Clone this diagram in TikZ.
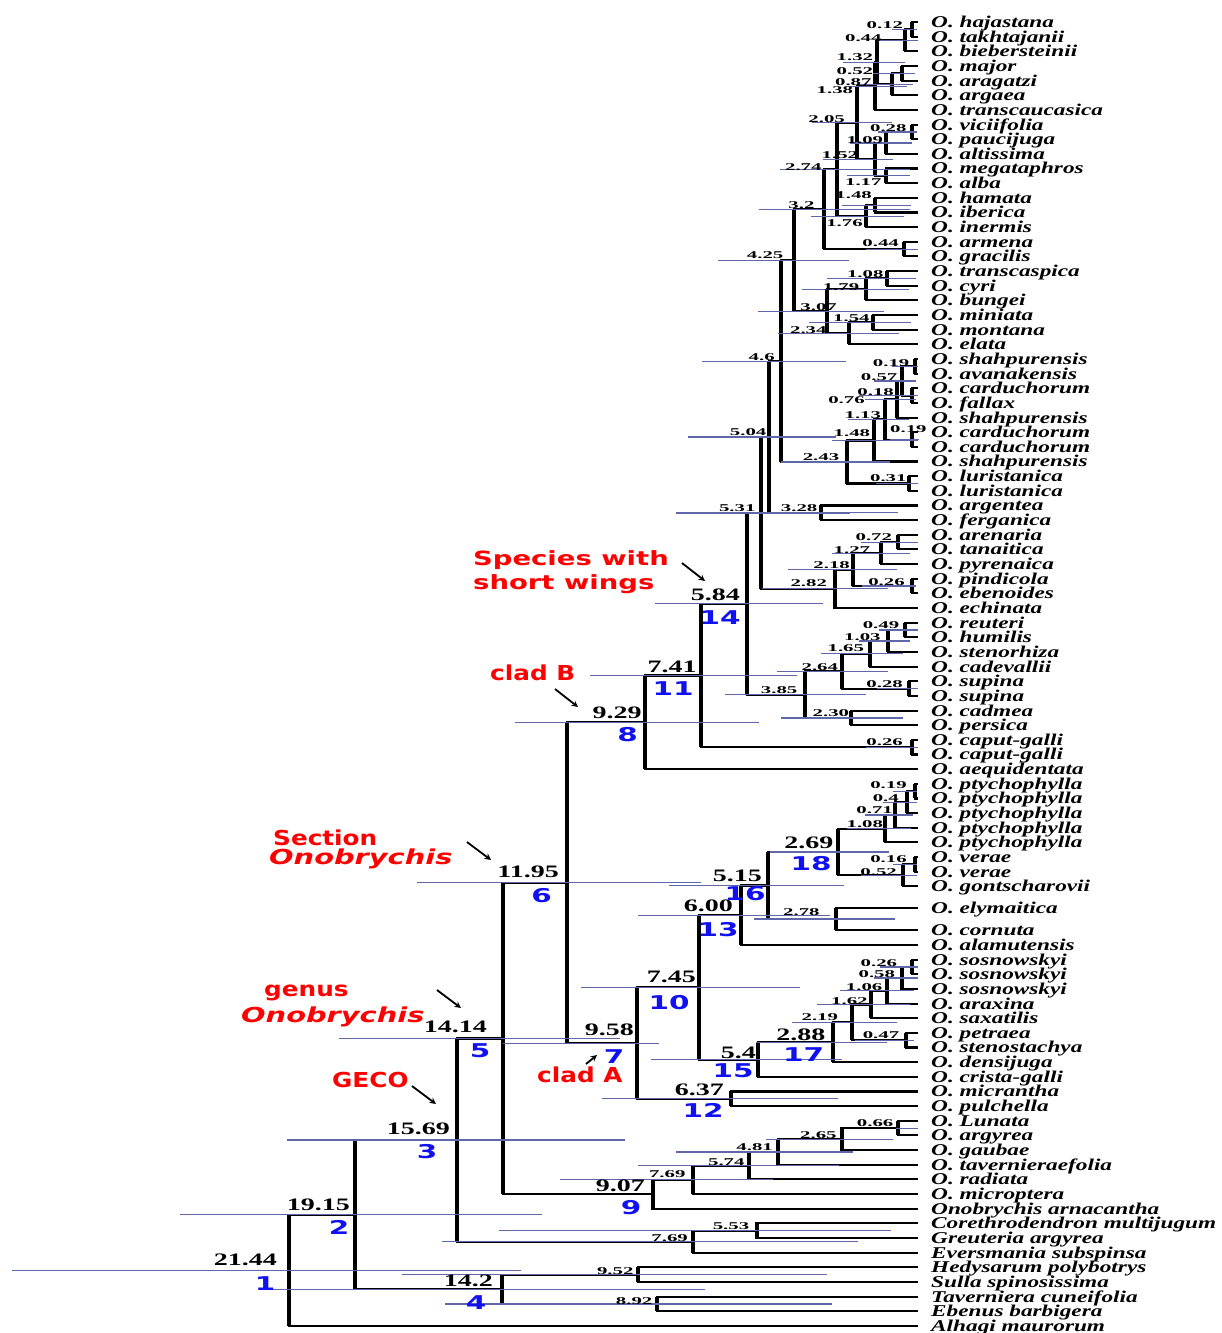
\documentclass[tikz,border=0pt]{standalone}
\usepackage{fontspec}
\setmainfont{Liberation Serif}
\newfontfamily\leaffont{Liberation Serif}[FakeStretch=1.41]
\newfontfamily\agefont{Liberation Serif}[FakeStretch=2.0]
\newfontfamily\bigagefont{Liberation Serif}[FakeStretch=1.6]
\newfontfamily\numfont{DejaVu Sans}[FakeStretch=1.55]
\newfontfamily\cladefont{DejaVu Sans}[FakeStretch=1.2]
\newfontfamily\widecladefont{DejaVu Sans}[FakeStretch=1.4]
\usepackage{xcolor}
\definecolor{hpdblue}{HTML}{5F66AA}
\definecolor{nodeblue}{HTML}{1010F0}
\definecolor{cladered}{HTML}{FF0000}
\usepackage{tikz}
\usetikzlibrary{arrows}

\begin{document}
\begin{tikzpicture}[
        x=1pt, y=-1pt,
        leaf/.style={anchor=west, inner xsep=13pt, inner ysep=0pt, text height=10.9pt, text depth=0pt, font=\leaffont\bfseries\itshape\fontsize{16.5}{18}\selectfont},
        age/.style={anchor=east, inner sep=0pt, font=\agefont\bfseries\fontsize{10.4}{11}\selectfont},
        bigage/.style={anchor=east, inner sep=0pt, font=\bigagefont\bfseries\fontsize{17.5}{19}\selectfont},
        num/.style={inner sep=0pt, text=nodeblue, font=\numfont\bfseries\fontsize{19}{20}\selectfont},
        clade/.style={anchor=west, inner sep=0pt, text=cladered, text height=15pt, text depth=0pt, font=\cladefont\bfseries\fontsize{20.6}{22}\selectfont},
        wideclade/.style={clade, font=\widecladefont\bfseries\fontsize{20.6}{22}\selectfont},
        wings/.style={clade, text height=14.3pt, font=\widecladefont\bfseries\fontsize{19.6}{21}\selectfont},
        branch/.style={line width=2.1pt},
        bar/.style={line width=4pt},
        hpd/.style={draw=hpdblue, line width=1.2pt},
        arrow/.style={->, line width=1.8pt, >=stealth}
    ]
        \useasboundingbox (0,0) rectangle (1221,1333);

        \node[leaf] (hajastana) at (918,22) {O. hajastana};
        \node[leaf] (takhtajanii) at (918,36.65) {O. takhtajanii};
        \node[leaf] (biebersteinii) at (918,51.3) {O. biebersteinii};
        \node[leaf] (major) at (918,65.95) {O. major};
        \node[leaf] (aragatzi) at (918,80.6) {O. aragatzi};
        \node[leaf] (argaea) at (918,95.25) {O. argaea};
        \node[leaf] (transcaucasica) at (918,109.9) {O. transcaucasica};
        \node[leaf] (viciifolia) at (918,124.55) {O. viciifolia};
        \node[leaf] (paucijuga) at (918,139.2) {O. paucijuga};
        \node[leaf] (altissima) at (918,153.85) {O. altissima};
        \node[leaf] (megataphros) at (918,168.5) {O. megataphros};
        \node[leaf] (alba) at (918,183.15) {O. alba};
        \node[leaf] (hamata) at (918,197.8) {O. hamata};
        \node[leaf] (iberica) at (918,212.45) {O. iberica};
        \node[leaf] (inermis) at (918,227.1) {O. inermis};
        \node[leaf] (armena) at (918,241.75) {O. armena};
        \node[leaf] (gracilis) at (918,256.4) {O. gracilis};
        \node[leaf] (transcaspica) at (918,271.05) {O. transcaspica};
        \node[leaf] (cyri) at (918,285.7) {O. cyri};
        \node[leaf] (bungei) at (918,300.35) {O. bungei};
        \node[leaf] (miniata) at (918,315) {O. miniata};
        \node[leaf] (montana) at (918,329.65) {O. montana};
        \node[leaf] (elata) at (918,344.3) {O. elata};
        \node[leaf] (shahA) at (918,358.95) {O. shahpurensis};
        \node[leaf] (avanakensis) at (918,373.6) {O. avanakensis};
        \node[leaf] (cardA) at (918,388.25) {O. carduchorum};
        \node[leaf] (fallax) at (918,402.9) {O. fallax};
        \node[leaf] (shahB) at (918,417.55) {O. shahpurensis};
        \node[leaf] (cardB) at (918,432.2) {O. carduchorum};
        \node[leaf] (cardC) at (918,446.85) {O. carduchorum};
        \node[leaf] (shahC) at (918,461.5) {O. shahpurensis};
        \node[leaf] (luriA) at (918,476.15) {O. luristanica};
        \node[leaf] (luriB) at (918,490.8) {O. luristanica};
        \node[leaf] (argentea) at (918,505.45) {O. argentea};
        \node[leaf] (ferganica) at (918,520.1) {O. ferganica};
        \node[leaf] (arenaria) at (918,534.75) {O. arenaria};
        \node[leaf] (tanaitica) at (918,549.4) {O. tanaitica};
        \node[leaf] (pyrenaica) at (918,564.05) {O. pyrenaica};
        \node[leaf] (pindicola) at (918,578.7) {O. pindicola};
        \node[leaf] (ebenoides) at (918,593.35) {O. ebenoides};
        \node[leaf] (echinata) at (918,608) {O. echinata};
        \node[leaf] (reuteri) at (918,622.65) {O. reuteri};
        \node[leaf] (humilis) at (918,637.3) {O. humilis};
        \node[leaf] (stenorhiza) at (918,651.95) {O. stenorhiza};
        \node[leaf] (cadevallii) at (918,666.6) {O. cadevallii};
        \node[leaf] (supinaA) at (918,681.25) {O. supina};
        \node[leaf] (supinaB) at (918,695.9) {O. supina};
        \node[leaf] (cadmea) at (918,710.55) {O. cadmea};
        \node[leaf] (persica) at (918,725.2) {O. persica};
        \node[leaf] (caputA) at (918,739.85) {O. caput-galli};
        \node[leaf] (caputB) at (918,754.5) {O. caput-galli};
        \node[leaf] (aequidentata) at (918,769.15) {O. aequidentata};
        \node[leaf] (ptychA) at (918,783.8) {O. ptychophylla};
        \node[leaf] (ptychB) at (918,798.45) {O. ptychophylla};
        \node[leaf] (ptychC) at (918,813.1) {O. ptychophylla};
        \node[leaf] (ptychD) at (918,827.75) {O. ptychophylla};
        \node[leaf] (ptychE) at (918,842.4) {O. ptychophylla};
        \node[leaf] (veraeA) at (918,857.05) {O. verae};
        \node[leaf] (veraeB) at (918,871.7) {O. verae};
        \node[leaf] (gontscharovii) at (918,886.35) {O. gontscharovii};
        \node[leaf] (elymaitica) at (918,908) {O. elymaitica};
        \node[leaf] (cornuta) at (918,930) {O. cornuta};
        \node[leaf] (alamutensis) at (918,944.95) {O. alamutensis};
        \node[leaf] (sosnA) at (918,959.6) {O. sosnowskyi};
        \node[leaf] (sosnB) at (918,974.25) {O. sosnowskyi};
        \node[leaf] (sosnC) at (918,988.9) {O. sosnowskyi};
        \node[leaf] (araxina) at (918,1003.55) {O. araxina};
        \node[leaf] (saxatilis) at (918,1018.2) {O. saxatilis};
        \node[leaf] (petraea) at (918,1032.85) {O. petraea};
        \node[leaf] (stenostachya) at (918,1047.5) {O. stenostachya};
        \node[leaf] (densijuga) at (918,1062.15) {O. densijuga};
        \node[leaf] (cristagalli) at (918,1076.8) {O. crista-galli};
        \node[leaf] (micrantha) at (918,1091.45) {O. micrantha};
        \node[leaf] (pulchella) at (918,1106.1) {O. pulchella};
        \node[leaf] (lunata) at (918,1120.75) {O. Lunata};
        \node[leaf] (argyrea) at (918,1135.4) {O. argyrea};
        \node[leaf] (gaubae) at (918,1150.05) {O. gaubae};
        \node[leaf] (tavernieraefolia) at (918,1164.7) {O. tavernieraefolia};
        \node[leaf] (radiata) at (918,1179.35) {O. radiata};
        \node[leaf] (microptera) at (918,1194) {O. microptera};
        \node[leaf] (arnacantha) at (918,1208.65) {Onobrychis arnacantha};
        \node[leaf] (corethrodendron) at (918,1223.3) {Corethrodendron multijugum};
        \node[leaf] (greuteria) at (918,1237.95) {Greuteria argyrea};
        \node[leaf] (eversmania) at (918,1252.6) {Eversmania subspinsa};
        \node[leaf] (hedysarum) at (918,1267.25) {Hedysarum polybotrys};
        \node[leaf] (sulla) at (918,1281.9) {Sulla spinosissima};
        \node[leaf] (taverniera) at (918,1296.55) {Taverniera cuneifolia};
        \node[leaf] (ebenus) at (918,1311.2) {Ebenus barbigera};
        \node[leaf] (alhagi) at (918,1325.85) {Alhagi maurorum};

        \coordinate (c012) at (912,29.35);
        \coordinate (c044a) at (905,40.33);
        \coordinate (c052a) at (902,73.3);
        \coordinate (c087) at (892,84.3);
        \coordinate (c132) at (877,62.3);
        \coordinate (c138) at (875,86.1);
        \coordinate (c028a) at (912,131.9);
        \coordinate (c109) at (886,142.9);
        \coordinate (c117) at (886,175.85);
        \coordinate (c152) at (875,159.4);
        \coordinate (c205) at (857,122.75);
        \coordinate (c148a) at (875,205.15);
        \coordinate (c176) at (866,216.1);
        \coordinate (c274) at (837,169.4);
        \coordinate (c044b) at (904,249.1);
        \coordinate (c320) at (824,209.25);
        \coordinate (c108a) at (887,278.4);
        \coordinate (c179) at (866,289.4);
        \coordinate (c154) at (873,322.35);
        \coordinate (c234) at (849,333.3);
        \coordinate (c307) at (827,311.35);
        \coordinate (c425) at (794,260.3);
        \coordinate (c019a) at (915,366.3);
        \coordinate (c018) at (912,395.6);
        \coordinate (c057) at (902,380.95);
        \coordinate (c076) at (897,399.3);
        \coordinate (c019b) at (912,439.55);
        \coordinate (c113) at (885,419.4);
        \coordinate (c148b) at (874,440.45);
        \coordinate (c031) at (909,483.5);
        \coordinate (c243) at (847,462);
        \coordinate (c460) at (781,361.15);
        \coordinate (c328) at (821,512.8);
        \coordinate (c504) at (769,437);
        \coordinate (c072) at (898,542.1);
        \coordinate (c127) at (881,553.1);
        \coordinate (c026a) at (912,586.05);
        \coordinate (c218) at (853,569.6);
        \coordinate (c282) at (834.5,588.8);
        \coordinate (c531) at (761,512.9);
        \coordinate (c049) at (905,630);
        \coordinate (c103) at (888,641);
        \coordinate (c165) at (870,653.8);
        \coordinate (c028b) at (909,688.6);
        \coordinate (c264) at (842,671.2);
        \coordinate (c230) at (851,717.9);
        \coordinate (c385) at (805,694.55);
        \coordinate (n14) at (747,603.7);
        \coordinate (c026b) at (912,747.2);
        \coordinate (n11) at (701,675.45);
        \coordinate (n8) at (645,722.3);
        \coordinate (c019c) at (915,791.15);
        \coordinate (c040) at (907,802.1);
        \coordinate (c071) at (895,814.95);
        \coordinate (c108b) at (885,828.7);
        \coordinate (c016) at (915,864.4);
        \coordinate (c052b) at (903,875.4);
        \coordinate (n18) at (838,852.05);
        \coordinate (c278) at (836,919);
        \coordinate (n16) at (768,885.5);
        \coordinate (n13) at (741,915.25);
        \coordinate (c026c) at (912,966.95);
        \coordinate (c058) at (901.5,977.9);
        \coordinate (c106) at (887,990.75);
        \coordinate (c162) at (871,1004.5);
        \coordinate (c047) at (906,1040.2);
        \coordinate (c219) at (852,1022.35);
        \coordinate (n17) at (833,1042.3);
        \coordinate (n15) at (758,1059.55);
        \coordinate (n10) at (699,987.4);
        \coordinate (n12) at (731,1098.8);
        \coordinate (n7) at (637,1043.1);
        \coordinate (n6) at (567,882.7);
        \coordinate (c066) at (898,1128.1);
        \coordinate (c265) at (841.5,1139.1);
        \coordinate (c481) at (778,1151.9);
        \coordinate (c574) at (749,1165.65);
        \coordinate (c769a) at (693,1179.8);
        \coordinate (n9) at (652.5,1194.25);
        \coordinate (n5) at (503,1038.5);
        \coordinate (c553) at (756.5,1230.65);
        \coordinate (c769b) at (693,1241.6);
        \coordinate (n3) at (457,1140.05);
        \coordinate (c952) at (638,1274.6);
        \coordinate (c892) at (657,1303.9);
        \coordinate (n4) at (502,1289.25);
        \coordinate (n2) at (355,1214.65);
        \coordinate (n1) at (289,1270.3);

        \draw[branch] (hajastana) -| (c012) |- (takhtajanii); \draw[bar] (c012 |- hajastana) -- (c012 |- takhtajanii);
        \draw[branch] (c012) -| (c044a) |- (biebersteinii); \draw[bar] (c044a |- c012) -- (c044a |- biebersteinii);
        \draw[branch] (major) -| (c052a) |- (aragatzi); \draw[bar] (c052a |- major) -- (c052a |- aragatzi);
        \draw[branch] (c052a) -| (c087) |- (argaea); \draw[bar] (c087 |- c052a) -- (c087 |- argaea);
        \draw[branch] (c044a) -| (c132) |- (c087); \draw[bar] (c132 |- c044a) -- (c132 |- c087);
        \draw[branch] (c132) -| (c138) |- (transcaucasica); \draw[bar] (c138 |- c132) -- (c138 |- transcaucasica);
        \draw[branch] (viciifolia) -| (c028a) |- (paucijuga); \draw[bar] (c028a |- viciifolia) -- (c028a |- paucijuga);
        \draw[branch] (c028a) -| (c109) |- (altissima); \draw[bar] (c109 |- c028a) -- (c109 |- altissima);
        \draw[branch] (megataphros) -| (c117) |- (alba); \draw[bar] (c117 |- megataphros) -- (c117 |- alba);
        \draw[branch] (c109) -| (c152) |- (c117); \draw[bar] (c152 |- c109) -- (c152 |- c117);
        \draw[branch] (c138) -| (c205) |- (c152); \draw[bar] (c205 |- c138) -- (c205 |- c152);
        \draw[branch] (hamata) -| (c148a) |- (iberica); \draw[bar] (c148a |- hamata) -- (c148a |- iberica);
        \draw[branch] (c148a) -| (c176) |- (inermis); \draw[bar] (c176 |- c148a) -- (c176 |- inermis);
        \draw[branch] (c205) -| (c274) |- (c176); \draw[bar] (c274 |- c205) -- (c274 |- c176);
        \draw[branch] (armena) -| (c044b) |- (gracilis); \draw[bar] (c044b |- armena) -- (c044b |- gracilis);
        \draw[branch] (c274) -| (c320) |- (c044b); \draw[bar] (c320 |- c274) -- (c320 |- c044b);
        \draw[branch] (transcaspica) -| (c108a) |- (cyri); \draw[bar] (c108a |- transcaspica) -- (c108a |- cyri);
        \draw[branch] (c108a) -| (c179) |- (bungei); \draw[bar] (c179 |- c108a) -- (c179 |- bungei);
        \draw[branch] (miniata) -| (c154) |- (montana); \draw[bar] (c154 |- miniata) -- (c154 |- montana);
        \draw[branch] (c154) -| (c234) |- (elata); \draw[bar] (c234 |- c154) -- (c234 |- elata);
        \draw[branch] (c179) -| (c307) |- (c234); \draw[bar] (c307 |- c179) -- (c307 |- c234);
        \draw[branch] (c320) -| (c425) |- (c307); \draw[bar] (c425 |- c320) -- (c425 |- c307);
        \draw[branch] (shahA) -| (c019a) |- (avanakensis); \draw[bar] (c019a |- shahA) -- (c019a |- avanakensis);
        \draw[branch] (cardA) -| (c018) |- (fallax); \draw[bar] (c018 |- cardA) -- (c018 |- fallax);
        \draw[branch] (c019a) -| (c057) |- (c018); \draw[bar] (c057 |- c019a) -- (c057 |- c018);
        \draw[branch] (c057) -| (c076) |- (shahB); \draw[bar] (c076 |- c057) -- (c076 |- shahB);
        \draw[branch] (cardB) -| (c019b) |- (cardC); \draw[bar] (c019b |- cardB) -- (c019b |- cardC);
        \draw[branch] (c076) -| (c113) |- (c019b); \draw[bar] (c113 |- c076) -- (c113 |- c019b);
        \draw[branch] (c113) -| (c148b) |- (shahC); \draw[bar] (c148b |- c113) -- (c148b |- shahC);
        \draw[branch] (luriA) -| (c031) |- (luriB); \draw[bar] (c031 |- luriA) -- (c031 |- luriB);
        \draw[branch] (c148b) -| (c243) |- (c031); \draw[bar] (c243 |- c148b) -- (c243 |- c031);
        \draw[branch] (c425) -| (c460) |- (c243); \draw[bar] (c460 |- c425) -- (c460 |- c243);
        \draw[branch] (argentea) -| (c328) |- (ferganica); \draw[bar] (c328 |- argentea) -- (c328 |- ferganica);
        \draw[branch] (c460) -| (c504) |- (c328); \draw[bar] (c504 |- c460) -- (c504 |- c328);
        \draw[branch] (arenaria) -| (c072) |- (tanaitica); \draw[bar] (c072 |- arenaria) -- (c072 |- tanaitica);
        \draw[branch] (c072) -| (c127) |- (pyrenaica); \draw[bar] (c127 |- c072) -- (c127 |- pyrenaica);
        \draw[branch] (pindicola) -| (c026a) |- (ebenoides); \draw[bar] (c026a |- pindicola) -- (c026a |- ebenoides);
        \draw[branch] (c127) -| (c218) |- (c026a); \draw[bar] (c218 |- c127) -- (c218 |- c026a);
        \draw[branch] (c218) -| (c282) |- (echinata); \draw[bar] (c282 |- c218) -- (c282 |- echinata);
        \draw[branch] (c504) -| (c531) |- (c282); \draw[bar] (c531 |- c504) -- (c531 |- c282);
        \draw[branch] (reuteri) -| (c049) |- (humilis); \draw[bar] (c049 |- reuteri) -- (c049 |- humilis);
        \draw[branch] (c049) -| (c103) |- (stenorhiza); \draw[bar] (c103 |- c049) -- (c103 |- stenorhiza);
        \draw[branch] (c103) -| (c165) |- (cadevallii); \draw[bar] (c165 |- c103) -- (c165 |- cadevallii);
        \draw[branch] (supinaA) -| (c028b) |- (supinaB); \draw[bar] (c028b |- supinaA) -- (c028b |- supinaB);
        \draw[branch] (c165) -| (c264) |- (c028b); \draw[bar] (c264 |- c165) -- (c264 |- c028b);
        \draw[branch] (cadmea) -| (c230) |- (persica); \draw[bar] (c230 |- cadmea) -- (c230 |- persica);
        \draw[branch] (c264) -| (c385) |- (c230); \draw[bar] (c385 |- c264) -- (c385 |- c230);
        \draw[branch] (c531) -| (n14) |- (c385); \draw[bar] (n14 |- c531) -- (n14 |- c385);
        \draw[branch] (caputA) -| (c026b) |- (caputB); \draw[bar] (c026b |- caputA) -- (c026b |- caputB);
        \draw[branch] (n14) -| (n11) |- (c026b); \draw[bar] (n11 |- n14) -- (n11 |- c026b);
        \draw[branch] (n11) -| (n8) |- (aequidentata); \draw[bar] (n8 |- n11) -- (n8 |- aequidentata);
        \draw[branch] (ptychA) -| (c019c) |- (ptychB); \draw[bar] (c019c |- ptychA) -- (c019c |- ptychB);
        \draw[branch] (c019c) -| (c040) |- (ptychC); \draw[bar] (c040 |- c019c) -- (c040 |- ptychC);
        \draw[branch] (c040) -| (c071) |- (ptychD); \draw[bar] (c071 |- c040) -- (c071 |- ptychD);
        \draw[branch] (c071) -| (c108b) |- (ptychE); \draw[bar] (c108b |- c071) -- (c108b |- ptychE);
        \draw[branch] (veraeA) -| (c016) |- (veraeB); \draw[bar] (c016 |- veraeA) -- (c016 |- veraeB);
        \draw[branch] (c016) -| (c052b) |- (gontscharovii); \draw[bar] (c052b |- c016) -- (c052b |- gontscharovii);
        \draw[branch] (c108b) -| (n18) |- (c052b); \draw[bar] (n18 |- c108b) -- (n18 |- c052b);
        \draw[branch] (elymaitica) -| (c278) |- (cornuta); \draw[bar] (c278 |- elymaitica) -- (c278 |- cornuta);
        \draw[branch] (n18) -| (n16) |- (c278); \draw[bar] (n16 |- n18) -- (n16 |- c278);
        \draw[branch] (n16) -| (n13) |- (alamutensis); \draw[bar] (n13 |- n16) -- (n13 |- alamutensis);
        \draw[branch] (sosnA) -| (c026c) |- (sosnB); \draw[bar] (c026c |- sosnA) -- (c026c |- sosnB);
        \draw[branch] (c026c) -| (c058) |- (sosnC); \draw[bar] (c058 |- c026c) -- (c058 |- sosnC);
        \draw[branch] (c058) -| (c106) |- (araxina); \draw[bar] (c106 |- c058) -- (c106 |- araxina);
        \draw[branch] (c106) -| (c162) |- (saxatilis); \draw[bar] (c162 |- c106) -- (c162 |- saxatilis);
        \draw[branch] (petraea) -| (c047) |- (stenostachya); \draw[bar] (c047 |- petraea) -- (c047 |- stenostachya);
        \draw[branch] (c162) -| (c219) |- (c047); \draw[bar] (c219 |- c162) -- (c219 |- c047);
        \draw[branch] (c219) -| (n17) |- (densijuga); \draw[bar] (n17 |- c219) -- (n17 |- densijuga);
        \draw[branch] (n17) -| (n15) |- (cristagalli); \draw[bar] (n15 |- n17) -- (n15 |- cristagalli);
        \draw[branch] (n13) -| (n10) |- (n15); \draw[bar] (n10 |- n13) -- (n10 |- n15);
        \draw[branch] (micrantha) -| (n12) |- (pulchella); \draw[bar] (n12 |- micrantha) -- (n12 |- pulchella);
        \draw[branch] (n10) -| (n7) |- (n12); \draw[bar] (n7 |- n10) -- (n7 |- n12);
        \draw[branch] (n8) -| (n6) |- (n7); \draw[bar] (n6 |- n8) -- (n6 |- n7);
        \draw[branch] (lunata) -| (c066) |- (argyrea); \draw[bar] (c066 |- lunata) -- (c066 |- argyrea);
        \draw[branch] (c066) -| (c265) |- (gaubae); \draw[bar] (c265 |- c066) -- (c265 |- gaubae);
        \draw[branch] (c265) -| (c481) |- (tavernieraefolia); \draw[bar] (c481 |- c265) -- (c481 |- tavernieraefolia);
        \draw[branch] (c481) -| (c574) |- (radiata); \draw[bar] (c574 |- c481) -- (c574 |- radiata);
        \draw[branch] (c574) -| (c769a) |- (microptera); \draw[bar] (c769a |- c574) -- (c769a |- microptera);
        \draw[branch] (c769a) -| (n9) |- (arnacantha); \draw[bar] (n9 |- c769a) -- (n9 |- arnacantha);
        \draw[branch] (n6) -| (n5) |- (n9); \draw[bar] (n5 |- n6) -- (n5 |- n9);
        \draw[branch] (corethrodendron) -| (c553) |- (greuteria); \draw[bar] (c553 |- corethrodendron) -- (c553 |- greuteria);
        \draw[branch] (c553) -| (c769b) |- (eversmania); \draw[bar] (c769b |- c553) -- (c769b |- eversmania);
        \draw[branch] (n5) -| (n3) |- (c769b); \draw[bar] (n3 |- n5) -- (n3 |- c769b);
        \draw[branch] (hedysarum) -| (c952) |- (sulla); \draw[bar] (c952 |- hedysarum) -- (c952 |- sulla);
        \draw[branch] (taverniera) -| (c892) |- (ebenus); \draw[bar] (c892 |- taverniera) -- (c892 |- ebenus);
        \draw[branch] (c952) -| (n4) |- (c892); \draw[bar] (n4 |- c952) -- (n4 |- c892);
        \draw[branch] (n3) -| (n2) |- (n4); \draw[bar] (n2 |- n3) -- (n2 |- n4);
        \draw[branch] (n2) -| (n1) |- (alhagi); \draw[bar] (n1 |- n2) -- (n1 |- alhagi);

        \draw[hpd] (892,0 |- c012) -- (917,0 |- c012);
        \draw[hpd] (878,0 |- c044a) -- (918,0 |- c044a);
        \draw[hpd] (873,0 |- c052a) -- (915,0 |- c052a);
        \draw[hpd] (857,0 |- c087) -- (913,0 |- c087);
        \draw[hpd] (843,0 |- c132) -- (905,0 |- c132);
        \draw[hpd] (850,0 |- c138) -- (907,0 |- c138);
        \draw[hpd] (878,0 |- c028a) -- (917,0 |- c028a);
        \draw[hpd] (850,0 |- c109) -- (912,0 |- c109);
        \draw[hpd] (847,0 |- c117) -- (910,0 |- c117);
        \draw[hpd] (823,0 |- c152) -- (893,0 |- c152);
        \draw[hpd] (812,0 |- c205) -- (892,0 |- c205);
        \draw[hpd] (842,0 |- c148a) -- (911,0 |- c148a);
        \draw[hpd] (811,0 |- c176) -- (904,0 |- c176);
        \draw[hpd] (780,0 |- c274) -- (910,0 |- c274);
        \draw[hpd] (866,0 |- c044b) -- (918,0 |- c044b);
        \draw[hpd] (759,0 |- c320) -- (910,0 |- c320);
        \draw[hpd] (827,0 |- c108a) -- (916,0 |- c108a);
        \draw[hpd] (802,0 |- c179) -- (909,0 |- c179);
        \draw[hpd] (809,0 |- c154) -- (911,0 |- c154);
        \draw[hpd] (778,0 |- c234) -- (899,0 |- c234);
        \draw[hpd] (758,0 |- c307) -- (884,0 |- c307);
        \draw[hpd] (718,0 |- c425) -- (849,0 |- c425);
        \draw[hpd] (892,0 |- c019a) -- (918,0 |- c019a);
        \draw[hpd] (859,0 |- c018) -- (918,0 |- c018);
        \draw[hpd] (874,0 |- c057) -- (916,0 |- c057);
        \draw[hpd] (865,0 |- c076) -- (916,0 |- c076);
        \draw[hpd] (890,0 |- c019b) -- (919,0 |- c019b);
        \draw[hpd] (848,0 |- c113) -- (909,0 |- c113);
        \draw[hpd] (832,0 |- c148b) -- (918,0 |- c148b);
        \draw[hpd] (876,0 |- c031) -- (918,0 |- c031);
        \draw[hpd] (781,0 |- c243) -- (890,0 |- c243);
        \draw[hpd] (702,0 |- c460) -- (846,0 |- c460);
        \draw[hpd] (790,0 |- c328) -- (898,0 |- c328);
        \draw[hpd] (688,0 |- c504) -- (836,0 |- c504);
        \draw[hpd] (861,0 |- c072) -- (918,0 |- c072);
        \draw[hpd] (832,0 |- c127) -- (910,0 |- c127);
        \draw[hpd] (862,0 |- c026a) -- (916,0 |- c026a);
        \draw[hpd] (788,0 |- c218) -- (897,0 |- c218);
        \draw[hpd] (762,0 |- c282) -- (888,0 |- c282);
        \draw[hpd] (676,0 |- c531) -- (850,0 |- c531);
        \draw[hpd] (879,0 |- c049) -- (918,0 |- c049);
        \draw[hpd] (859,0 |- c103) -- (910,0 |- c103);
        \draw[hpd] (821,0 |- c165) -- (903,0 |- c165);
        \draw[hpd] (877,0 |- c028b) -- (918,0 |- c028b);
        \draw[hpd] (777,0 |- c264) -- (888,0 |- c264);
        \draw[hpd] (781,0 |- c230) -- (903,0 |- c230);
        \draw[hpd] (725,0 |- c385) -- (866,0 |- c385);
        \draw[hpd] (655,0 |- n14) -- (823,0 |- n14);
        \draw[hpd] (866,0 |- c026b) -- (918,0 |- c026b);
        \draw[hpd] (590,0 |- n11) -- (797,0 |- n11);
        \draw[hpd] (515,0 |- n8) -- (759,0 |- n8);
        \draw[hpd] (893,0 |- c019c) -- (917,0 |- c019c);
        \draw[hpd] (883,0 |- c040) -- (917,0 |- c040);
        \draw[hpd] (865,0 |- c071) -- (913,0 |- c071);
        \draw[hpd] (847,0 |- c108b) -- (911,0 |- c108b);
        \draw[hpd] (893,0 |- c016) -- (917,0 |- c016);
        \draw[hpd] (861,0 |- c052b) -- (917,0 |- c052b);
        \draw[hpd] (770,0 |- n18) -- (889,0 |- n18);
        \draw[hpd] (754,0 |- c278) -- (895,0 |- c278);
        \draw[hpd] (669,0 |- n16) -- (844,0 |- n16);
        \draw[hpd] (638,0 |- n13) -- (830,0 |- n13);
        \draw[hpd] (880,0 |- c026c) -- (918,0 |- c026c);
        \draw[hpd] (874,0 |- c058) -- (918,0 |- c058);
        \draw[hpd] (840,0 |- c106) -- (914,0 |- c106);
        \draw[hpd] (817,0 |- c162) -- (910,0 |- c162);
        \draw[hpd] (855,0 |- c047) -- (914,0 |- c047);
        \draw[hpd] (792,0 |- c219) -- (897,0 |- c219);
        \draw[hpd] (756,0 |- n17) -- (887,0 |- n17);
        \draw[hpd] (651,0 |- n15) -- (842,0 |- n15);
        \draw[hpd] (581,0 |- n10) -- (800,0 |- n10);
        \draw[hpd] (602,0 |- n12) -- (838,0 |- n12);
        \draw[hpd] (503,0 |- n7) -- (659,0 |- n7);
        \draw[hpd] (417,0 |- n6) -- (701,0 |- n6);
        \draw[hpd] (896,0 |- c066) -- (918,0 |- c066);
        \draw[hpd] (766,0 |- c265) -- (893,0 |- c265);
        \draw[hpd] (676,0 |- c481) -- (853,0 |- c481);
        \draw[hpd] (638,0 |- c574) -- (839,0 |- c574);
        \draw[hpd] (560,0 |- c769a) -- (773,0 |- c769a);
        \draw[hpd] (339,0 |- n5) -- (620,0 |- n5);
        \draw[hpd] (499,0 |- c553) -- (891,0 |- c553);
        \draw[hpd] (442,0 |- c769b) -- (858,0 |- c769b);
        \draw[hpd] (287,0 |- n3) -- (625,0 |- n3);
        \draw[hpd] (402,0 |- c952) -- (827,0 |- c952);
        \draw[hpd] (445,0 |- c892) -- (832,0 |- c892);
        \draw[hpd] (273,0 |- n4) -- (705,0 |- n4);
        \draw[hpd] (180,0 |- n2) -- (542,0 |- n2);
        \draw[hpd] (12,0 |- n1) -- (521,0 |- n1);

        \node[age] (t012) at (903.3,25) {0.12};
        \node[age] (t044a) at (881.7,38.3) {0.44};
        \node[age] (t052a) at (873.3,70.7) {0.52};
        \node[age] (t087) at (871.7,81.7) {0.87};
        \node[age] (t132) at (873.3,56.7) {1.32};
        \node[age] (t138) at (853.3,90) {1.38};
        \node[age] (t028a) at (906.7,128.3) {0.28};
        \node[age] (t109) at (883.3,140) {1.09};
        \node[age] (t117) at (881.7,181.7) {1.17};
        \node[age] (t152) at (858.3,155) {1.52};
        \node[age] (t205) at (845,119.3) {2.05};
        \node[age] (t148a) at (872,195) {1.48};
        \node[age] (t176) at (862.9,223.3) {1.76};
        \node[age] (t274) at (821.7,166.7) {2.74};
        \node[age] (t044b) at (899,243.3) {0.44};
        \node[age] (t320) at (814.6,205) {3.2};
        \node[age] (t108a) at (883.6,274) {1.08};
        \node[age] (t179) at (859.4,286.7) {1.79};
        \node[age] (t154) at (869.8,318.3) {1.54};
        \node[age] (t234) at (826.7,330) {2.34};
        \node[age] (t307) at (837,306.7) {3.07};
        \node[age] (t425) at (783.5,255) {4.25};
        \node[age] (t019a) at (909.5,362.7) {0.19};
        \node[age] (t018) at (894,392.3) {0.18};
        \node[age] (t057) at (897.5,377) {0.57};
        \node[age] (t076) at (864.9,400) {0.76};
        \node[age] (t019b) at (926.8,429.3) {0.19};
        \node[age] (t113) at (881.2,415) {1.13};
        \node[age] (t148b) at (870.3,433.3) {1.48};
        \node[age] (t031) at (906.7,478.3) {0.31};
        \node[age] (t243) at (839.4,457.3) {2.43};
        \node[age] (t460) at (774.9,356.7) {4.6};
        \node[age] (t328) at (817.5,508.3) {3.28};
        \node[age] (t504) at (766.5,431.7) {5.04};
        \node[age] (t072) at (892.2,536.7) {0.72};
        \node[age] (t127) at (870.3,550) {1.27};
        \node[age] (t026a) at (904.9,581.7) {0.26};
        \node[age] (t218) at (850,565) {2.18};
        \node[age] (t282) at (827.1,583.3) {2.82};
        \node[age] (t531) at (755.6,508.3) {5.31};
        \node[age] (t049) at (899.4,625) {0.49};
        \node[age] (t103) at (880.8,637.3) {1.03};
        \node[age] (t165) at (864.2,648.3) {1.65};
        \node[age] (t028b) at (903,684) {0.28};
        \node[age] (t264) at (838.2,666.7) {2.64};
        \node[age] (t230) at (849.3,713.3) {2.30};
        \node[age] (t385) at (797.5,690) {3.85};
        \node[age] (t026b) at (903,741.7) {0.26};
        \node[age] (t019c) at (906.9,785) {0.19};
        \node[age] (t040) at (899,798.3) {0.4};
        \node[age] (t071) at (893,810) {0.71};
        \node[age] (t108b) at (883.2,824) {1.08};
        \node[age] (t016) at (906.9,859.3) {0.16};
        \node[age] (t052b) at (897,871.7) {0.52};
        \node[age] (t278) at (819.8,911.7) {2.78};
        \node[age] (t026c) at (897.3,962.7) {0.26};
        \node[age] (t058) at (895.2,974) {0.58};
        \node[age] (t106) at (882.5,986.7) {1.06};
        \node[age] (t162) at (867.8,1000.7) {1.62};
        \node[age] (t047) at (899.4,1035) {0.47};
        \node[age] (t219) at (838.2,1016.7) {2.19};
        \node[age] (t066) at (893.5,1123.3) {0.66};
        \node[age] (t265) at (836.8,1135) {2.65};
        \node[age] (t481) at (773,1146.7) {4.81};
        \node[age] (t574) at (744.7,1161.7) {5.74};
        \node[age] (t769a) at (685.6,1174) {7.69};
        \node[age] (t553) at (749.4,1226) {5.53};
        \node[age] (t769b) at (688,1238.3) {7.69};
        \node[age] (t952) at (633.6,1271) {9.52};
        \node[age] (t892) at (652.5,1300.7) {8.92};

        \node[bigage] (t14) at (740,595) {5.84};
        \node[bigage] (t11) at (696.7,666.7) {7.41};
        \node[bigage] (t8) at (641.7,713) {9.29};
        \node[bigage] (t18) at (833.5,843) {2.69};
        \node[bigage] (t16) at (762,876) {5.15};
        \node[bigage] (t13) at (733,906) {6.00};
        \node[bigage] (t17) at (825.5,1035) {2.88};
        \node[bigage] (t15) at (756,1053) {5.4};
        \node[bigage] (t10) at (696,977) {7.45};
        \node[bigage] (t12) at (724,1090) {6.37};
        \node[bigage] (t7) at (634,1030) {9.58};
        \node[bigage] (t6) at (559,872) {11.95};
        \node[bigage] (t9) at (645,1186) {9.07};
        \node[bigage] (t5) at (487,1027) {14.14};
        \node[bigage] (t3) at (450,1129) {15.69};
        \node[bigage] (t4) at (493,1281) {14.2};
        \node[bigage] (t2) at (350,1205) {19.15};
        \node[bigage] (t1) at (277,1260) {21.44};

        \node[num] (k1) at (265,1283.5) {1};
        \node[num] (k2) at (339,1227.5) {2};
        \node[num] (k3) at (427,1151.5) {3};
        \node[num] (k4) at (476,1302.5) {4};
        \node[num] (k5) at (480,1050.5) {5};
        \node[num] (k6) at (541.5,895.5) {6};
        \node[num] (k7) at (614,1056.5) {7};
        \node[num] (k8) at (627.5,735) {8};
        \node[num] (k9) at (631,1207.5) {9};
        \node[num] (k10) at (669,1002.5) {10};
        \node[num] (k11) at (673,688.5) {11};
        \node[num] (k12) at (703,1110) {12};
        \node[num] (k13) at (718,929.5) {13};
        \node[num] (k14) at (720,618) {14};
        \node[num] (k15) at (733,1070.5) {15};
        \node[num] (k16) at (745,894) {16};
        \node[num] (k17) at (803.5,1054.5) {17};
        \node[num] (k18) at (811,863.5) {18};

        \node[wings] (species) at (473,558.8) {Species with};
        \node[wings] (wings) at (473,582.7) {short wings};
        \node[clade] (cladb) at (490,672.8) {clad B};
        \node[clade] (section) at (273,837.5) {Section};
        \node[wideclade] (sectiongenus) at (269,856.7) {\itshape Onobrychis};
        \node[clade] (genus) at (264,989.4) {genus};
        \node[wideclade] (genusname) at (241,1015) {\itshape Onobrychis};
        \node[clade] (geco) at (332,1079.5) {GECO};
        \node[clade] (clada) at (537,1075) {clad A};

        \coordinate (wingsfrom) at (682,563);
        \coordinate (wingsto) at (705,581);
        \coordinate (cladbfrom) at (555,689);
        \coordinate (cladbto) at (578,707);
        \coordinate (sectionfrom) at (467,842);
        \coordinate (sectionto) at (491,860);
        \coordinate (genusfrom) at (437,990);
        \coordinate (genusto) at (461,1008);
        \coordinate (gecofrom) at (412,1086);
        \coordinate (gecoto) at (436,1104);
        \coordinate (cladafrom) at (586,1064);
        \coordinate (cladato) at (597,1055);

        \draw[arrow] (wingsfrom) -- (wingsto);
        \draw[arrow] (cladbfrom) -- (cladbto);
        \draw[arrow] (sectionfrom) -- (sectionto);
        \draw[arrow] (genusfrom) -- (genusto);
        \draw[arrow] (gecofrom) -- (gecoto);
        \draw[arrow] (cladafrom) -- (cladato);
    \end{tikzpicture}
\end{document}
